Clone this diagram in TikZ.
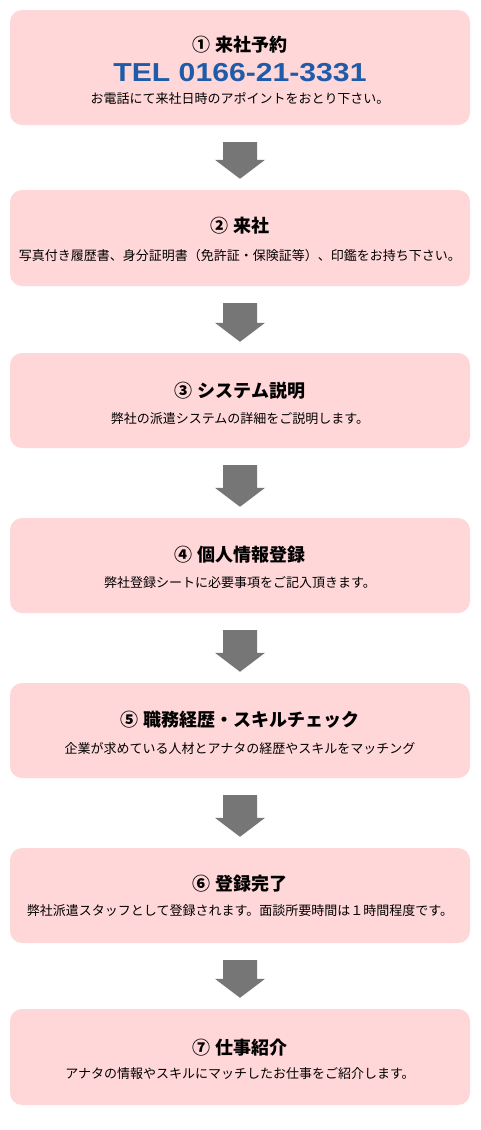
\documentclass[tikz,border=0pt]{standalone}
\usepackage{fontspec}
\setmainfont{Noto Sans CJK JP}
\newfontfamily\telfont{Liberation Sans}[BoldFont={Liberation Sans Bold}]
\usetikzlibrary{calc}
\definecolor{boxpink}{HTML}{FFD7D9}
\definecolor{arrowgray}{HTML}{767676}
\definecolor{telblue}{HTML}{1F5BA8}
\tikzset{
  stepbox/.style={draw=none, fill=boxpink, rounded corners=12pt, minimum width=460pt, inner sep=0pt},
  titletext/.style={anchor=base, inner sep=0pt, font=\fontsize{18}{20}\selectfont\bfseries},
  desctext/.style={anchor=base, inner sep=0pt, font=\fontsize{13}{15}\selectfont},
  teltext/.style={anchor=base, inner sep=0pt, text=telblue, font=\fontsize{26}{28}\selectfont\telfont\bfseries},
  arrowfill/.style={fill=arrowgray, draw=none}
}
\newcommand\flowarrow[2]{%
  \fill[arrowfill] ([xshift=-17pt,yshift=-17pt]#1.south) -- ([xshift=17pt,yshift=-17pt]#1.south)
    -- ([xshift=17pt,yshift=30pt]#2.north) -- ([xshift=25pt,yshift=30pt]#2.north)
    -- ([yshift=11pt]#2.north) -- ([xshift=-25pt,yshift=30pt]#2.north)
    -- ([xshift=-17pt,yshift=30pt]#2.north) -- cycle;}
\begin{document}
\begin{tikzpicture}[x=1pt,y=-1pt]
\useasboundingbox[fill=white] (0,0) rectangle (480,1130);
% boxes
\node[stepbox, minimum height=115pt] (b1) at (240,67.5) {};
\node[stepbox, minimum height=96pt] (b2) at (240,238) {};
\node[stepbox, minimum height=95pt] (b3) at (240,400.5) {};
\node[stepbox, minimum height=95pt] (b4) at (240,565.5) {};
\node[stepbox, minimum height=95pt] (b5) at (240,730.5) {};
\node[stepbox, minimum height=95pt] (b6) at (240,895.5) {};
\node[stepbox, minimum height=96pt] (b7) at (240,1057) {};
% texts
\node[titletext] (t1) at (240,51) {①\hspace{5pt}来社予約};
\node[teltext] (tel) at (240,81) {\scalebox{1.16}[1]{TEL 0166-21-3331}};
\node[desctext] (d1) at (240,103.5) {お電話にて来社日時のアポイントをおとり下さい。};
\node[titletext] (t2) at (240,232) {②\hspace{5pt}来社};
\node[desctext] (d2) at (240,260) {写真付き履歴書、身分証明書（免許証・保険証等）、印鑑をお持ち下さい。};
\node[titletext] (t3) at (240,397) {③\hspace{5pt}システム説明};
\node[desctext] (d3) at (240,423) {弊社の派遣システムの詳細をご説明します。};
\node[titletext] (t4) at (240,561) {④\hspace{5pt}個人情報登録};
\node[desctext] (d4) at (240,587) {弊社登録シートに必要事項をご記入頂きます。};
\node[titletext] (t5) at (240,726) {⑤\hspace{5pt}職務経歴・スキルチェック};
\node[desctext] (d5) at (240,753) {企業が求めている人材とアナタの経歴やスキルをマッチング};
\node[titletext] (t6) at (240,890) {⑥\hspace{5pt}登録完了};
\node[desctext] (d6) at (240,915) {弊社派遣スタッフとして登録されます。面談所要時間は１時間程度です。};
\node[titletext] (t7) at (240,1054) {⑦\hspace{5pt}仕事紹介};
\node[desctext] (d7) at (240,1078) {アナタの情報やスキルにマッチしたお仕事をご紹介します。};
% arrows
\flowarrow{b1}{b2}
\flowarrow{b2}{b3}
\flowarrow{b3}{b4}
\flowarrow{b4}{b5}
\flowarrow{b5}{b6}
\flowarrow{b6}{b7}
\end{tikzpicture}
\end{document}
